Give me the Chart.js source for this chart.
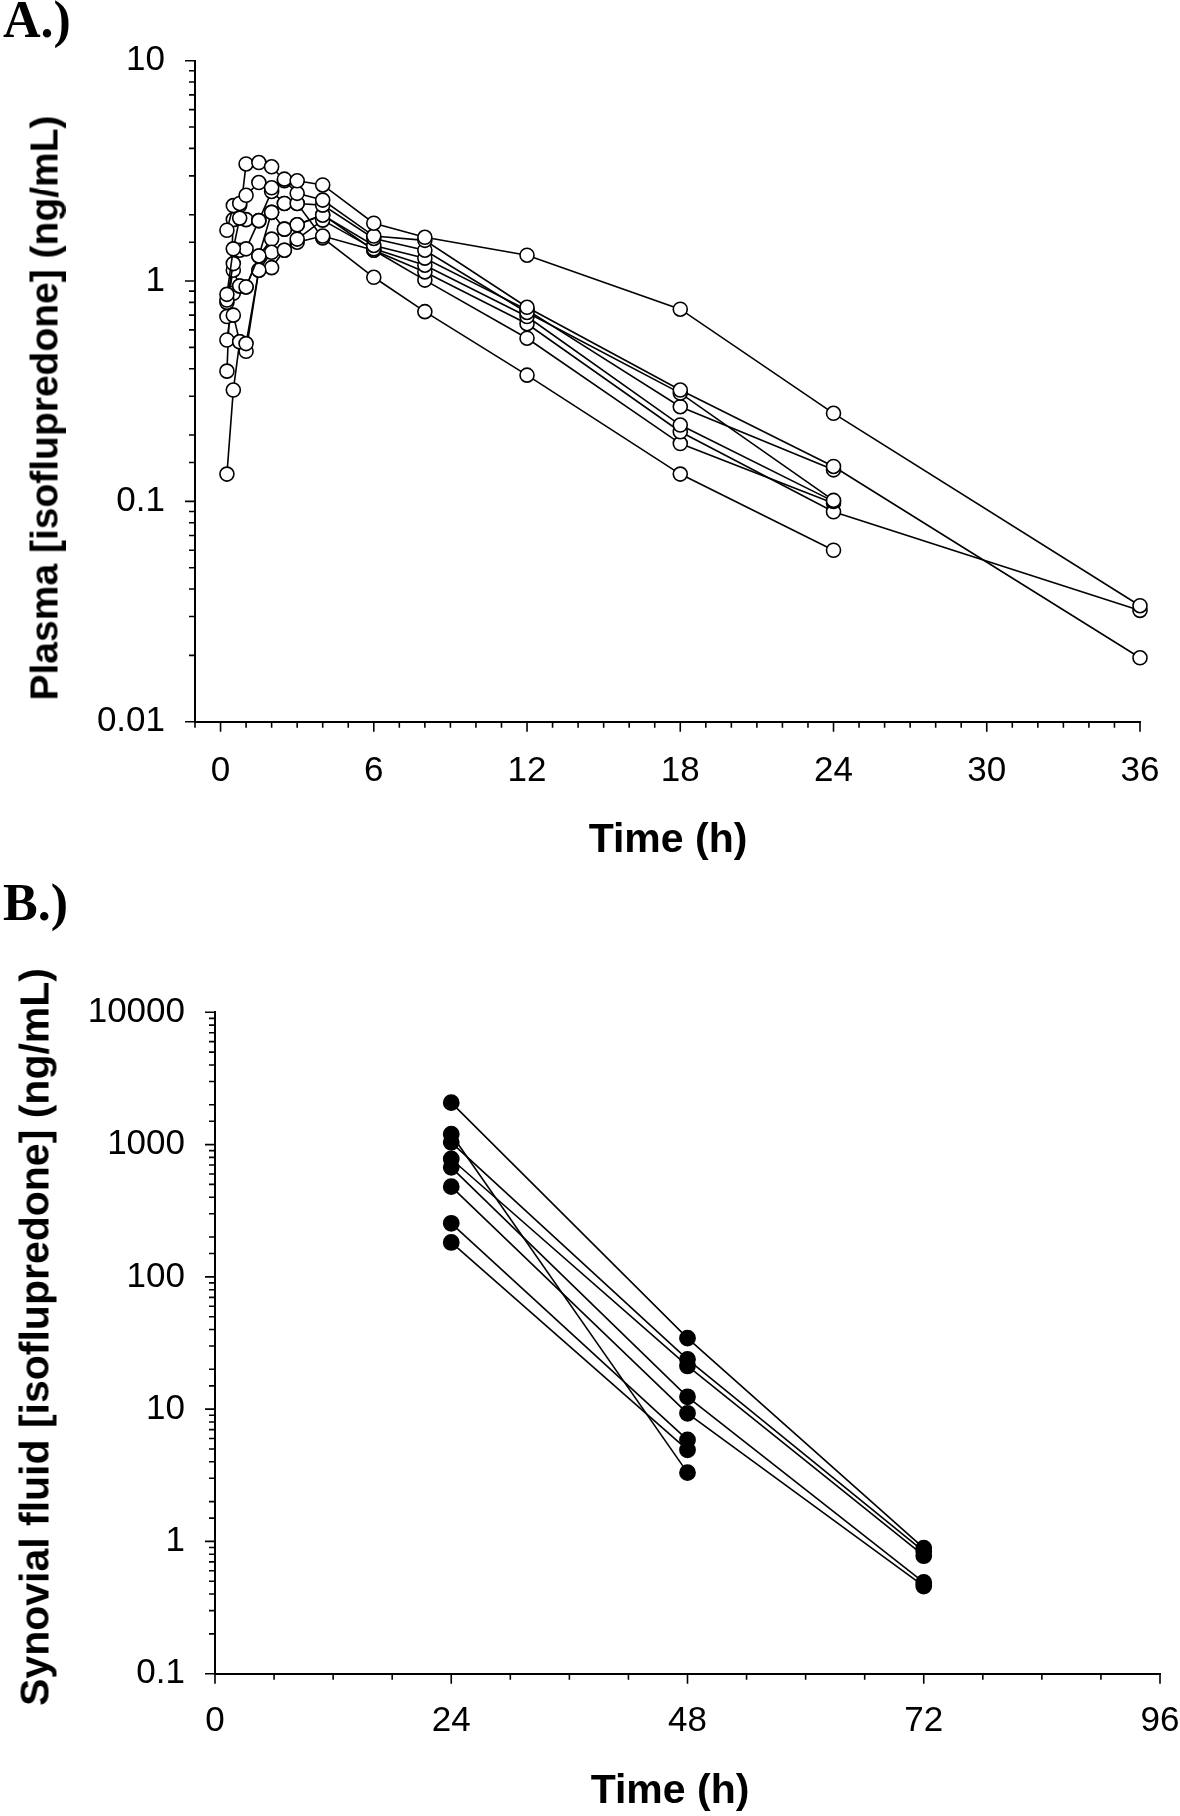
<!DOCTYPE html>
<html><head><meta charset="utf-8">
<script src="https://cdn.jsdelivr.net/npm/chart.js@4.4.1/dist/chart.umd.min.js"></script>
<style>
html,body{margin:0;padding:0;background:#fff;width:1180px;height:1816px;overflow:hidden}
canvas{position:absolute;left:0}
#cA{top:0}
#cB{top:880px}
.lab{position:absolute;left:3px;font:bold 52px "Liberation Serif","Times New Roman",serif;line-height:52px;color:#000;margin:0}
.ttl{position:absolute;font-family:"Liberation Sans",Arial,sans-serif;font-weight:bold;line-height:1;color:#000;white-space:nowrap}
</style></head><body>
<canvas id="cA" width="1180" height="880"></canvas>
<canvas id="cB" width="1180" height="936"></canvas>
<div class="lab" style="top:-6px">A.)</div>
<div class="lab" style="top:877px">B.)</div>
<div class="ttl" style="left:44px;top:408px;font-size:39px;transform:translate(-50%,-50%) rotate(-90deg)">Plasma [isoflupredone] (ng/mL)</div>
<div class="ttl" style="left:668px;top:838px;font-size:41px;transform:translate(-50%,-50%)">Time (h)</div>
<div class="ttl" style="left:35px;top:1337px;font-size:41px;transform:translate(-50%,-50%) rotate(-90deg)">Synovial fluid [isoflupredone] (ng/mL)</div>
<div class="ttl" style="left:670px;top:1789px;font-size:41px;transform:translate(-50%,-50%)">Time (h)</div>
<script>
// ---------- Panel A: plasma ----------
const plasmaTimes = [0.25, 0.5, 0.75, 1, 1.5, 2, 2.5, 3, 4, 6, 8, 12, 18, 24, 36];
const plasma1 = [1.7, 2.2, 2.25, 2.45, 2.8, 2.65, 2.9, 2.85, 2.73, 1.83, 1.58, 1.31, 0.745, 0.251, 0.0336];
const plasma2 = [0.87, 1.4, 1.93, 3.4, 3.45, 3.3, 2.85, 2.5, 2.33, 1.6, 1.53, 0.76, 0.32, 0.144, 0.0195];
const plasma3 = [0.82, 1.2, 1.38, 1.4, 1.88, 2.55, 2.25, 2.25, 2.21, 1.56, 1.38, 0.72, 0.31, 0.101, null];
const plasma4 = [0.8, 1.12, 0.95, 0.94, 1.3, 2.05, 1.72, 1.8, 1.99, 1.45, 1.27, 0.74, 0.269, 0.139, null];
const plasma5 = [0.69, 0.7, 0.53, 0.52, 1.12, 1.35, 1.38, 1.55, 1.89, 1.4, 1.18, 0.69, 0.222, 0.1, null];
const plasma6 = [0.133, 0.32, 0.53, 0.48, 1.12, 1.15, 1.38, 1.5, 1.6, 1.38, 1.1, 0.64, 0.207, 0.0897, 0.032];
const plasma7 = [0.54, 0.88, 0.95, 0.94, 1.3, 1.55, 1.72, 1.8, 2.0, 1.38, 1.01, 0.55, 0.183, 0.098, null];
const plasma8 = [0.39, 1.9, 2.2, 1.9, 1.88, 2.05, 2.25, 2.25, 1.57, 1.04, 0.726, 0.374, 0.133, 0.06, null];
const plasmaXTicks = [0, 6, 12, 18, 24, 30, 36];
const plasmaYTicks = [0.01, 0.1, 1, 10];

// ---------- Panel B: synovial fluid ----------
const synovialTimes = [24, 48, 72];
const synovial1 = [2075, 34.4, 0.89];
const synovial2 = [1040, 23.8, 0.84];
const synovial3 = [778, 21.2, 0.78];
const synovial4 = [673, 12.4, 0.49];
const synovial5 = [481, 9.3, 0.46];
const synovial6 = [254, 5.85, null];
const synovial7 = [182, 4.92, null];
const synovial8 = [1197, 3.31, null];
const synovialXTicks = [0, 24, 48, 72, 96];
const synovialYTicks = [0.1, 1, 10, 100, 1000, 10000];

const SANS = '"Liberation Sans", Arial, sans-serif';

function isListed(v, list) {
  return list.some(t => Math.abs(v - t) <= Math.abs(t) * 1e-6 + 1e-9);
}
function series(times, vals) {
  return times.map((t, i) => ({x: t, y: vals[i]})).filter(p => p.y !== null && p.y !== undefined);
}
function tickPlugin(xMajors, yMajors) {
  return {
    id: 'axisTicks',
    afterDraw(chart) {
      const {ctx, chartArea: a} = chart;
      const xs = chart.scales.x, ys = chart.scales.y;
      ctx.save();
      ctx.strokeStyle = '#000';
      ctx.lineWidth = 1.6;
      ctx.beginPath();
      xs.ticks.forEach(t => {
        const p = xs.getPixelForValue(t.value);
        const L = isListed(t.value, xMajors) ? 10 : 6;
        ctx.moveTo(p, a.bottom); ctx.lineTo(p, a.bottom + L);
      });
      ys.ticks.forEach(t => {
        const p = ys.getPixelForValue(t.value);
        const L = isListed(t.value, yMajors) ? 10 : 6;
        ctx.moveTo(a.left, p); ctx.lineTo(a.left - L, p);
      });
      ctx.stroke();
      ctx.restore();
    }
  };
}
function zeroPad(s) {
  s.paddingLeft = 0; s.paddingRight = 0; s.paddingTop = 0; s.paddingBottom = 0;
}

function makeChart(id, cfg) {
  const datasets = cfg.subjects.map(v => ({
    data: series(cfg.times, v),
    showLine: true,
    borderColor: '#000',
    borderWidth: 1.6,
    pointRadius: cfg.pointRadius,
    pointHoverRadius: cfg.pointRadius,
    pointBorderWidth: 1.6,
    pointBackgroundColor: cfg.fill,
    pointBorderColor: '#000',
    clip: false
  }));
  return new Chart(document.getElementById(id), {
    type: 'scatter',
    data: {datasets},
    options: {
      responsive: false,
      animation: false,
      devicePixelRatio: 1,
      events: [],
      layout: {padding: cfg.padding},
      plugins: {legend: {display: false}, tooltip: {enabled: false}},
      scales: {
        x: {
          type: 'linear', min: cfg.xMin, max: cfg.xMax,
          grid: {display: false, drawTicks: false},
          border: {display: true, color: '#000', width: 2},
          ticks: {
            stepSize: cfg.xStep, autoSkip: false, maxRotation: 0, minRotation: 0,
            padding: cfg.xLabelPad, color: '#000', font: {family: SANS, size: 35},
            callback: v => isListed(v, cfg.xTicks) ? String(v) : ''
          },
          title: {display: false},
          afterFit: s => { s.height = cfg.xHeight; zeroPad(s); }
        },
        y: {
          type: 'logarithmic', min: cfg.yMin, max: cfg.yMax,
          grid: {display: false, drawTicks: false},
          border: {display: true, color: '#000', width: 2},
          ticks: {
            autoSkip: false, padding: 30, color: '#000', font: {family: SANS, size: 35},
            callback: v => isListed(v, cfg.yTicks) ? String(v) : ''
          },
          title: {display: false},
          afterFit: s => { s.width = cfg.yWidth; zeroPad(s); }
        }
      }
    },
    plugins: [tickPlugin(cfg.xTicks, cfg.yTicks)]
  });
}

makeChart('cA', {
  times: plasmaTimes,
  subjects: [plasma1, plasma2, plasma3, plasma4, plasma5, plasma6, plasma7, plasma8],
  fill: '#fff', pointRadius: 7,
  xMin: -1, xMax: 36, xStep: 1, xTicks: plasmaXTicks, xLabelPad: 29,
  yMin: 0.01, yMax: 10, yTicks: plasmaYTicks,
  padding: {left: 0, right: 40, top: 60.7, bottom: 0},
  xHeight: 880 - 721.7, yWidth: 195
});

makeChart('cB', {
  times: synovialTimes,
  subjects: [synovial1, synovial2, synovial3, synovial4, synovial5, synovial6, synovial7, synovial8],
  fill: '#000', pointRadius: 7.6,
  xMin: 0, xMax: 96, xStep: 6, xTicks: synovialXTicks, xLabelPad: 27,
  yMin: 0.1, yMax: 10000, yTicks: synovialYTicks,
  padding: {left: 0, right: 20, top: 132.3, bottom: 0},
  xHeight: 936 - 793.7, yWidth: 215
});
</script>
</body></html>
